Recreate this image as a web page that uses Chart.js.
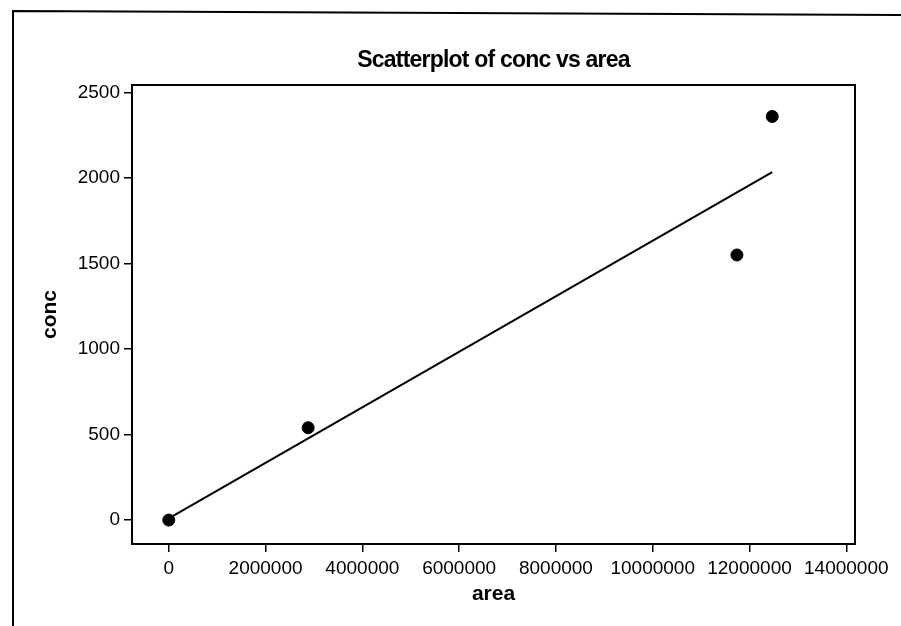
<!DOCTYPE html>
<html>
<head>
<meta charset="utf-8">
<script src="https://cdn.jsdelivr.net/npm/chart.js@4/dist/chart.umd.min.js"></script>
<style>
  html, body { margin: 0; padding: 0; background: #fff; }
  #wrap { width: 901px; height: 626px; }
</style>
</head>
<body>
<div id="wrap"><canvas id="scatter"></canvas></div>
<script>
// Data
const areaValues = [0, 2880000, 11740000, 12470000];
const concValues = [0, 540, 1550, 2360];

// Fitted line endpoints
const fitArea = [0, 12470000];
const fitConc = [10, 2035];

// Tick values
const areaTicks = [0, 2000000, 4000000, 6000000, 8000000, 10000000, 12000000, 14000000];
const concTicks = [0, 500, 1000, 1500, 2000, 2500];

const CHART_TITLE = 'Scatterplot of conc vs area';
const FONT = "'Liberation Sans', Arial, sans-serif";

// Frame around plot area, outer page border, title centred over the plot
const framePlugin = {
  id: 'frame',
  afterDraw(chart) {
    const { ctx, chartArea: a } = chart;
    ctx.save();
    ctx.strokeStyle = '#000';
    ctx.lineWidth = 2;
    ctx.strokeRect(a.left, a.top, a.right - a.left, a.bottom - a.top);
    // outer border (left + top)
    ctx.beginPath();
    ctx.moveTo(13, 626);
    ctx.lineTo(13, 11);
    ctx.lineTo(901, 15);
    ctx.stroke();
    // title
    ctx.fillStyle = '#000';
    ctx.font = 'bold 23px ' + FONT;
    ctx.letterSpacing = '-0.8px';
    ctx.textAlign = 'center';
    ctx.textBaseline = 'alphabetic';
    ctx.fillText(CHART_TITLE, (a.left + a.right) / 2, 67);
    ctx.restore();
  }
};

function toPoints(xs, ys) {
  return xs.map((x, i) => ({ x: x, y: ys[i] }));
}

const config = {
  type: 'scatter',
  data: {
    datasets: [
      {
        label: 'fit',
        data: toPoints(fitArea, fitConc),
        showLine: true,
        borderColor: '#000',
        borderWidth: 2,
        pointRadius: 0,
        fill: false,
      },
      {
        label: 'conc',
        data: toPoints(areaValues, concValues),
        backgroundColor: '#000',
        borderColor: '#000',
        pointRadius: 6,
        pointHoverRadius: 6,
      },
    ]
  },
  options: {
    responsive: true,
    maintainAspectRatio: false,
    animation: false,
    layout: { padding: { left: 0, right: 46, top: 85, bottom: 0 } },
    plugins: {
      legend: { display: false },
      tooltip: { enabled: false },
      title: { display: false },
    },
    scales: {
      x: {
        type: 'linear',
        min: -760000,
        max: 14180000,
        afterBuildTicks: (scale) => { scale.ticks = areaTicks.map(v => ({ value: v })); },
        afterFit: (scale) => { scale.height = 82; },
        grid: { display: true, drawOnChartArea: false, drawTicks: true, tickLength: 8, color: '#000', lineWidth: 1.5 },
        border: { display: false },
        ticks: {
          color: '#000',
          font: { family: FONT, size: 19 },
          padding: 5,
          maxRotation: 0,
          autoSkip: false,
          callback: (v) => String(v),
        },
        title: {
          display: true,
          text: 'area',
          color: '#000',
          font: { family: FONT, size: 21, weight: 'bold' },
          padding: { top: 0, bottom: 19 },
        },
      },
      y: {
        type: 'linear',
        min: -140,
        max: 2544,
        afterBuildTicks: (scale) => { scale.ticks = concTicks.map(v => ({ value: v })); },
        afterFit: (scale) => { scale.width = 132; },
        grid: { display: true, drawOnChartArea: false, drawTicks: true, tickLength: 8, color: '#000', lineWidth: 1.5 },
        border: { display: false },
        ticks: {
          color: '#000',
          font: { family: FONT, size: 19 },
          padding: 4,
          autoSkip: false,
          callback: (v) => String(v),
        },
        title: {
          display: true,
          text: 'conc',
          color: '#000',
          font: { family: FONT, size: 21, weight: 'bold' },
          padding: { top: 38, bottom: 0 },
        },
      },
    },
  },
  plugins: [framePlugin],
};

SCATTER_CHART = new Chart(document.getElementById('scatter'), config);
</script>
</body>
</html>
